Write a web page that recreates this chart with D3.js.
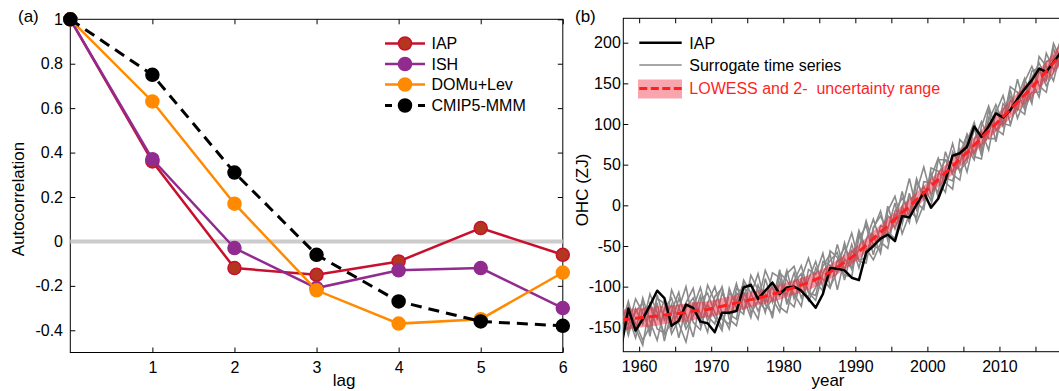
<!DOCTYPE html>
<html>
<head>
<meta charset="utf-8">
<script src="https://cdn.jsdelivr.net/npm/d3@7"></script>
<style>
  body { margin: 0; background: #fff; }
  svg text { font-family: "Liberation Sans", Arial, Helvetica, sans-serif; }
</style>
</head>
<body>
<svg width="1059" height="391"></svg>
<script>
// ---- panel (a): autocorrelation by lag ----
const lags = [0, 1, 2, 3, 4, 5, 6];
const lagTicks = [1, 2, 3, 4, 5, 6];
const acfTicks = [-0.4, -0.2, 0, 0.2, 0.4, 0.6, 0.8, 1];
const acfIAP  = [1, 0.36, -0.12, -0.15, -0.09, 0.06, -0.06];
const acfISH  = [1, 0.37, -0.03, -0.21, -0.13, -0.12, -0.30];
const acfDOMu = [1, 0.63, 0.17, -0.22, -0.37, -0.35, -0.14];
const acfCMIP = [1, 0.75, 0.31, -0.06, -0.27, -0.36, -0.38];
const acfNames = ['IAP', 'ISH', 'DOMu+Lev', 'CMIP5-MMM'];

// ---- panel (b): OHC time series, 1957..2018 (plotted at mid-year) ----
const years = d3.range(1957, 2019);
const yearTicks = [1960, 1965, 1970, 1975, 1980, 1985, 1990, 1995, 2000, 2005, 2010, 2015];
const ohcTicks = [-150, -100, -50, 0, 50, 100, 150, 200];
const ohcIAP = [-175,
  -127, -154, -140, -123, -105, -114, -148, -142, -122, -126,
  -143, -145, -156, -132, -132, -130, -101, -98, -115, -105,
  -95, -109, -101, -100, -105, -115, -126, -109, -77, -78,
  -80, -89, -92, -58, -50, -41, -36, -44, -13, -15,
  1, 16, -3, 8, 31, 61, 64, 72, 97, 84,
  97, 113, 108, 117, 131, 143, 154, 168, 164, 176,
  188];
const lowess = [
  -141, -140, -139, -138, -137, -136, -135, -134, -133, -132,
  -130, -129, -128, -126, -124, -122, -120, -118, -116, -114,
  -112, -109, -107, -104, -101, -98, -95, -91, -87, -82,
  -76, -70, -64, -57, -49, -41, -33, -25, -17, -9,
  -1, 7, 15, 24, 32, 40, 48, 57, 65, 74,
  83, 92, 100, 109, 118, 127, 136, 145, 155, 165,
  175, 185];
const lowessErr = [
  13, 13, 12, 12, 12, 12, 11, 11, 11, 11,
  11, 10, 10, 10, 10, 10, 10, 10, 9, 9,
  9, 9, 9, 9, 9, 9, 9, 9, 9, 9,
  9, 9, 9, 9, 9, 9, 9, 9, 9, 9,
  9, 9, 9, 9, 9, 10, 10, 10, 10, 10,
  10, 10, 10, 11, 11, 11, 11, 12, 12, 12,
  13, 13];
const surr1 = [-160,
  -130, -155, -114, -143, -166, -127, -114, -145, -168, -126,
  -101, -136, -146, -108, -126, -96, -130, -110, -84, -122,
  -133, -95, -110, -83, -114, -91, -69, -101, -86, -48,
  -80, -48, -77, -43, -17, -45, -53, -7, 9, -7,
  -15, 29, 28, 16, 66, 40, 69, 41, 80, 103,
  82, 82, 125, 114, 155, 122, 153, 133, 177, 179,
  203];
const surr2 = [-125,
  -160, -127, -146, -109, -132, -159, -144, -115, -134, -162,
  -117, -108, -132, -150, -108, -118, -96, -132, -118, -80,
  -101, -125, -132, -95, -84, -107, -111, -69, -74, -82,
  -46, -78, -53, -19, -49, -55, -13, -21, 17, -17,
  17, 47, 12, 30, 16, 66, 51, 87, 60, 57,
  104, 124, 101, 98, 133, 156, 129, 165, 153, 199,
  179];
const surr3 = [-165,
  -124, -145, -166, -149, -114, -121, -152, -127, -100, -144,
  -153, -120, -100, -134, -152, -108, -114, -138, -98, -120,
  -83, -89, -116, -125, -90, -65, -95, -105, -56, -64,
  -86, -88, -35, -59, -37, -59, -7, 11, -23, 11,
  3, -5, 46, 42, 28, 20, 81, 71, 56, 97,
  122, 94, 87, 130, 117, 152, 171, 147, 139, 183,
  171];
const surr4 = [-120,
  -148, -115, -132, -155, -120, -167, -130, -107, -146, -120,
  -133, -156, -112, -102, -134, -140, -92, -108, -130, -110,
  -139, -83, -92, -109, -124, -79, -85, -59, -100, -82,
  -60, -34, -69, -71, -27, -13, -33, -41, -3, 33,
  -5, 23, 6, 56, 56, 38, 31, 79, 102, 67,
  88, 118, 97, 142, 107, 130, 165, 169, 147, 163,
  195];
const surr5 = [-150,
  -118, -151, -172, -121, -140, -117, -158, -141, -120, -102,
  -147, -122, -138, -154, -102, -126, -134, -86, -104, -132,
  -95, -111, -80, -115, -92, -117, -101, -75, -60, -104,
  -66, -78, -41, -25, -61, -25, -29, 3, -35, -11,
  33, 7, 40, 10, 44, 76, 41, 59, 94, 71,
  118, 78, 117, 134, 119, 112, 157, 175, 157, 193,
  169];
const surr6 = [-135,
  -154, -131, -120, -161, -110, -141, -122, -163, -126, -114,
  -141, -98, -118, -140, -146, -102, -108, -124, -140, -90,
  -119, -79, -122, -93, -74, -107, -117, -83, -68, -58,
  -92, -56, -67, -65, -29, -7, -43, -11, -21, 15,
  -21, 1, 34, 58, 34, 30, 63, 87, 64, 91,
  68, 114, 135, 100, 125, 148, 125, 183, 171, 153,
  189];
const surr7 = [-170,
  -136, -163, -128, -123, -152, -157, -104, -125, -152, -136,
  -111, -142, -122, -100, -140, -148, -110, -96, -118, -128,
  -115, -131, -84, -75, -106, -113, -77, -91, -102, -68,
  -52, -70, -31, -53, -67, -47, -1, -29, -1, -21,
  29, 11, 0, 38, 56, 52, 43, 53, 98, 61,
  108, 92, 103, 146, 139, 118, 139, 139, 187, 167,
  175];
const surrogates = [surr1, surr2, surr3, surr4, surr5, surr6, surr7];
const legendB = ['IAP', 'Surrogate time series', 'LOWESS and 2-\u00a0 uncertainty range'];

const svg = d3.select('svg');
const font = '"Liberation Sans", Arial, Helvetica, sans-serif';

//strip d3's default domain & font, keep inward ticks
const styleAxis = g => {
  g.select('.domain').remove();
  g.attr('font-family', font).attr('font-size', 16);
  g.selectAll('.tick line').attr('stroke', '#000');
  g.selectAll('.tick text').attr('fill', '#000');
};

/* ================= panel (a) ================= */
const a = { left: 70.3, right: 562.8, top: 19.3, bottom: 352.5 };
const xA = d3.scaleLinear().domain([0, 6]).range([a.left, a.right]);
const yA = d3.scaleLinear().domain([-0.5, 1]).range([a.bottom, a.top]);
const gA = svg.append('g');

gA.append('rect')
  .attr('x', a.left).attr('y', a.top)
  .attr('width', a.right - a.left).attr('height', a.bottom - a.top)
  .attr('fill', 'none').attr('stroke', '#000').attr('stroke-width', 1);

gA.append('g').attr('transform', `translate(0,${a.bottom})`)
  .call(d3.axisBottom(xA).tickValues(lagTicks).tickSize(-5).tickPadding(8.8).tickFormat(d3.format('d')))
  .call(styleAxis);
gA.append('g').attr('transform', `translate(0,${a.top})`)
  .call(d3.axisTop(xA).tickValues(lagTicks).tickSize(-5).tickFormat(''))
  .call(styleAxis);
gA.append('g').attr('transform', `translate(${a.left},0)`)
  .call(d3.axisLeft(yA).tickValues(acfTicks).tickSize(-5).tickPadding(7.3).tickFormat(d => String(d)))
  .call(styleAxis);
gA.append('g').attr('transform', `translate(${a.right},0)`)
  .call(d3.axisRight(yA).tickValues(acfTicks).tickSize(-5).tickFormat(''))
  .call(styleAxis);

//zero reference line
gA.append('line')
  .attr('x1', a.left).attr('x2', a.right)
  .attr('y1', yA(0)).attr('y2', yA(0))
  .attr('stroke', '#cccccc').attr('stroke-width', 4);

const seriesA = [
  { values: acfIAP,  stroke: '#c8102e', fill: '#b4361f', dash: null },
  { values: acfISH,  stroke: '#922b8f', fill: '#922b8f', dash: null },
  { values: acfDOMu, stroke: '#ff8a00', fill: '#ff8a00', dash: null },
  { values: acfCMIP, stroke: '#000000', fill: '#000000', dash: '11,7' }
];

const lineA = d3.line().x((d, i) => xA(lags[i])).y(d => yA(d));

seriesA.forEach(s => {
  gA.append('path')
    .attr('d', lineA(s.values))
    .attr('fill', 'none')
    .attr('stroke', s.stroke)
    .attr('stroke-width', s.dash ? 3 : 2.5)
    .attr('stroke-dasharray', s.dash);
  gA.selectAll(null).data(s.values)
    .enter().append('circle')
      .attr('cx', (d, i) => xA(lags[i]))
      .attr('cy', d => yA(d))
      .attr('r', 6.5)
      .attr('fill', s.fill)
      .attr('stroke', s.stroke)
      .attr('stroke-width', 1.5);
});

//legend (a)
const legA = gA.append('g');
const legARowY = [43.5, 64, 84.5, 105.5];
seriesA.forEach((s, i) => {
  const y = legARowY[i];
  legA.append('line')
    .attr('x1', 385).attr('x2', 425).attr('y1', y).attr('y2', y)
    .attr('stroke', s.stroke).attr('stroke-width', s.dash ? 3 : 2.5)
    .attr('stroke-dasharray', s.dash ? '7,26' : null);
  legA.append('circle')
    .attr('cx', 405).attr('cy', y).attr('r', 6.5)
    .attr('fill', s.fill).attr('stroke', s.stroke).attr('stroke-width', 1.5);
  legA.append('text')
    .attr('x', 431.5).attr('y', y + 5.8)
    .attr('font-size', 16).attr('fill', '#000')
    .text(acfNames[i]);
});

gA.append('text').attr('x', 18).attr('y', 22).attr('font-size', 17).text('(a)');
gA.append('text')
  .attr('transform', 'translate(23.5,199) rotate(-90)')
  .attr('text-anchor', 'middle').attr('font-size', 17)
  .text('Autocorrelation');
gA.append('text')
  .attr('x', 344).attr('y', 386)
  .attr('text-anchor', 'middle').attr('font-size', 17)
  .text('lag');

/* ================= panel (b) ================= */
const b = { left: 623.3, right: 1064.3, top: 18.3, bottom: 351.7 };
const xB = d3.scaleLinear().domain([1957.8, 2019]).range([b.left, b.right]);
const yB = d3.scaleLinear().domain([-180, 230]).range([b.bottom, b.top]);
const gB = svg.append('g');

gB.append('clipPath').attr('id', 'clipB')
  .append('rect')
    .attr('x', b.left).attr('y', b.top)
    .attr('width', b.right - b.left).attr('height', b.bottom - b.top);

gB.append('rect')
  .attr('x', b.left).attr('y', b.top)
  .attr('width', b.right - b.left).attr('height', b.bottom - b.top)
  .attr('fill', 'none').attr('stroke', '#000').attr('stroke-width', 1);

gB.append('g').attr('transform', `translate(0,${b.bottom})`)
  .call(d3.axisBottom(xB).tickValues(yearTicks).tickSize(-5).tickPadding(8.6)
    .tickFormat(d => d % 10 === 0 ? String(d) : ''))
  .call(styleAxis);
gB.append('g').attr('transform', `translate(0,${b.top})`)
  .call(d3.axisTop(xB).tickValues(yearTicks).tickSize(-5).tickFormat(''))
  .call(styleAxis);
gB.append('g').attr('transform', `translate(${b.left},0)`)
  .call(d3.axisLeft(yB).tickValues(ohcTicks).tickSize(-5).tickPadding(2.5).tickFormat(d => String(d)))
  .call(styleAxis);

const plotB = gB.append('g').attr('clip-path', 'url(#clipB)');
//values are annual means, drawn at mid-year
const xYear = (d, i) => xB(years[i] + 0.5);
const lineB = d3.line().x(xYear).y(d => yB(d));

plotB.selectAll('.surr').data(surrogates)
  .enter().append('path')
    .attr('class', 'surr')
    .attr('d', lineB)
    .attr('fill', 'none')
    .attr('stroke', '#8a8a8a')
    .attr('stroke-width', 1.6);

const band = d3.area()
  .x(xYear)
  .y0((d, i) => yB(d - lowessErr[i]))
  .y1((d, i) => yB(d + lowessErr[i]));

plotB.append('path')
  .attr('d', band(lowess))
  .attr('fill', 'rgb(240,40,60)')
  .attr('fill-opacity', 0.48);

plotB.append('path')
  .attr('d', lineB(ohcIAP))
  .attr('fill', 'none')
  .attr('stroke', '#000')
  .attr('stroke-width', 2.5)
  .attr('stroke-linejoin', 'round');

plotB.append('path')
  .attr('d', lineB(lowess))
  .attr('fill', 'none')
  .attr('stroke', '#ff1f1f')
  .attr('stroke-width', 3)
  .attr('stroke-dasharray', '9,5');

//legend (b)
const legB = gB.append('g');
legB.append('line').attr('x1', 639.3).attr('x2', 681.7).attr('y1', 42.7).attr('y2', 42.7)
  .attr('stroke', '#000').attr('stroke-width', 2.5);
legB.append('line').attr('x1', 639.3).attr('x2', 681.7).attr('y1', 65).attr('y2', 65)
  .attr('stroke', '#8a8a8a').attr('stroke-width', 1.6);
legB.append('rect').attr('x', 638).attr('y', 79.5).attr('width', 44).attr('height', 19)
  .attr('fill', 'rgb(240,40,60)').attr('fill-opacity', 0.42);
legB.append('line').attr('x1', 639.3).attr('x2', 681.7).attr('y1', 88.5).attr('y2', 88.5)
  .attr('stroke', '#ff1f1f').attr('stroke-width', 3).attr('stroke-dasharray', '8,3.5');

const legBRowY = [42.7, 65, 88.3];
const legBColor = ['#000', '#000', '#ff1f1f'];
legendB.forEach((t, i) => {
  legB.append('text')
    .attr('x', 689.3).attr('y', legBRowY[i] + 5.8)
    .attr('font-size', 16).attr('fill', legBColor[i])
    .style('white-space', 'pre')
    .text(t);
});

gB.append('text').attr('x', 575).attr('y', 22).attr('font-size', 17).text('(b)');
gB.append('text')
  .attr('transform', 'translate(587.5,190) rotate(-90)')
  .attr('text-anchor', 'middle').attr('font-size', 17)
  .text('OHC (ZJ)');
gB.append('text')
  .attr('x', 828).attr('y', 386)
  .attr('text-anchor', 'middle').attr('font-size', 17)
  .text('year');
</script>
</body>
</html>
